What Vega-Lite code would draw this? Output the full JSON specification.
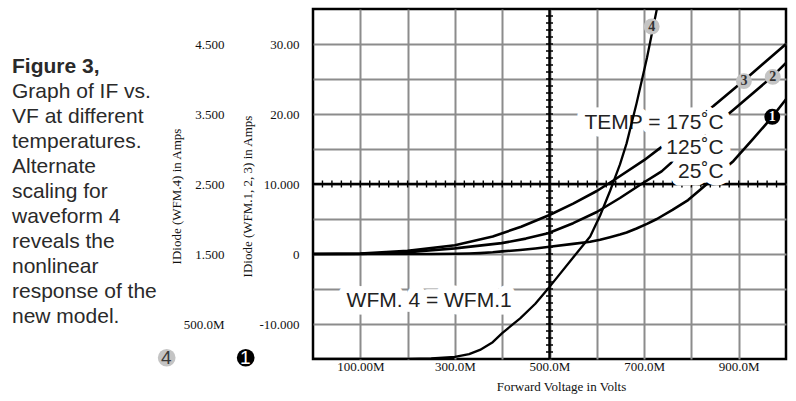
{
  "$schema": "https://vega.github.io/schema/vega-lite/v6.json",
  "width": 473,
  "height": 350,
  "autosize": {"type": "none"},
  "padding": {"left": 313, "top": 9, "right": 10, "bottom": 42},
  "background": "white",
  "title": {
    "text": "Figure 3,",
    "subtitle": ["Graph of IF vs.", "VF at different", "temperatures.", "Alternate", "scaling for", "waveform 4", "reveals the", "nonlinear", "response of the", "new model."],
    "orient": "top",
    "anchor": "start",
    "frame": "group",
    "align": "left",
    "baseline": "top",
    "dx": -301,
    "offset": -321.5,
    "font": "Liberation Sans",
    "fontSize": 21,
    "fontWeight": "bold",
    "color": "#2a2a2a",
    "subtitleFont": "Liberation Sans",
    "subtitleFontSize": 21,
    "subtitleFontWeight": "normal",
    "subtitleColor": "#2a2a2a",
    "subtitleLineHeight": 25,
    "subtitlePadding": 4.2
  },
  "datasets": {
    "curves": [
      {"wfm": "1", "v": 0.0, "i": 0},
      {"wfm": "1", "v": 0.1, "i": 0},
      {"wfm": "1", "v": 0.2, "i": 0.003},
      {"wfm": "1", "v": 0.25, "i": 0.01},
      {"wfm": "1", "v": 0.3, "i": 0.03},
      {"wfm": "1", "v": 0.33, "i": 0.07},
      {"wfm": "1", "v": 0.353, "i": 0.13},
      {"wfm": "1", "v": 0.38, "i": 0.24},
      {"wfm": "1", "v": 0.4, "i": 0.37},
      {"wfm": "1", "v": 0.438, "i": 0.58},
      {"wfm": "1", "v": 0.47, "i": 0.79},
      {"wfm": "1", "v": 0.5, "i": 1.03},
      {"wfm": "1", "v": 0.55, "i": 1.45},
      {"wfm": "1", "v": 0.586, "i": 1.75},
      {"wfm": "1", "v": 0.607, "i": 2.05},
      {"wfm": "1", "v": 0.628, "i": 2.4},
      {"wfm": "1", "v": 0.649, "i": 2.78},
      {"wfm": "1", "v": 0.663, "i": 3.08},
      {"wfm": "1", "v": 0.684, "i": 3.65},
      {"wfm": "1", "v": 0.706, "i": 4.3},
      {"wfm": "1", "v": 0.727, "i": 5.0},
      {"wfm": "1", "v": 0.76, "i": 6.3},
      {"wfm": "1", "v": 0.793, "i": 7.71},
      {"wfm": "1", "v": 0.818, "i": 9.14},
      {"wfm": "1", "v": 0.85, "i": 11.0},
      {"wfm": "1", "v": 0.889, "i": 13.3},
      {"wfm": "1", "v": 0.93, "i": 16.4},
      {"wfm": "1", "v": 0.971, "i": 19.6},
      {"wfm": "1", "v": 1.0, "i": 22.1},
      {"wfm": "2", "v": 0.0, "i": 0},
      {"wfm": "2", "v": 0.1, "i": 0.02},
      {"wfm": "2", "v": 0.2, "i": 0.22},
      {"wfm": "2", "v": 0.226, "i": 0.4},
      {"wfm": "2", "v": 0.3, "i": 0.8},
      {"wfm": "2", "v": 0.399, "i": 1.55},
      {"wfm": "2", "v": 0.45, "i": 2.2},
      {"wfm": "2", "v": 0.497, "i": 2.96},
      {"wfm": "2", "v": 0.55, "i": 4.4},
      {"wfm": "2", "v": 0.6, "i": 6.0},
      {"wfm": "2", "v": 0.649, "i": 8.0},
      {"wfm": "2", "v": 0.691, "i": 9.86},
      {"wfm": "2", "v": 0.737, "i": 11.8},
      {"wfm": "2", "v": 0.8, "i": 15.6},
      {"wfm": "2", "v": 0.889, "i": 20.6},
      {"wfm": "2", "v": 0.972, "i": 25.4},
      {"wfm": "2", "v": 1.0, "i": 27.3},
      {"wfm": "3", "v": 0.0, "i": 0},
      {"wfm": "3", "v": 0.1, "i": 0.06},
      {"wfm": "3", "v": 0.2, "i": 0.45},
      {"wfm": "3", "v": 0.3, "i": 1.25},
      {"wfm": "3", "v": 0.38, "i": 2.5},
      {"wfm": "3", "v": 0.44, "i": 3.9},
      {"wfm": "3", "v": 0.5, "i": 5.57},
      {"wfm": "3", "v": 0.55, "i": 7.2},
      {"wfm": "3", "v": 0.6, "i": 9.0},
      {"wfm": "3", "v": 0.635, "i": 10.5},
      {"wfm": "3", "v": 0.7, "i": 13.4},
      {"wfm": "3", "v": 0.737, "i": 15.3},
      {"wfm": "3", "v": 0.8, "i": 18.8},
      {"wfm": "3", "v": 0.846, "i": 21.1},
      {"wfm": "3", "v": 0.911, "i": 24.8},
      {"wfm": "3", "v": 1.0, "i": 30.0}
    ],
    "markers": [
      {"wfm": "3", "v": 0.911, "i": 24.7},
      {"wfm": "2", "v": 0.972, "i": 25.3},
      {"wfm": "1", "v": 0.971, "i": 19.6}
    ],
    "marker4": [
      {"wfm": "4", "v": 0.716, "i": 4.75}
    ],
    "notes": [
      {"text": "TEMP = 175˚C", "v": 0.868, "i": 17.86},
      {"text": "125˚C", "v": 0.868, "i": 14.29},
      {"text": "25˚C", "v": 0.868, "i": 10.81},
      {"text": "WFM. 4 = WFM.1", "v": 0.42, "i": -7.53}
    ],
    "axisKeys": [
      {"axis": "4"},
      {"axis": "1"}
    ],
    "crossV": [
      {"v": 0.5}
    ],
    "crossH": [
      {"i": 10}
    ]
  },
  "layer": [
    {
      "data": {"name": "crossV"},
      "mark": {"type": "rule", "color": "#000", "strokeWidth": 2.5},
      "encoding": {
        "x": {"field": "v", "type": "quantitative", "scale": {"domain": [0, 1], "nice": false, "zero": false}}
      }
    },
    {
      "data": {"name": "crossV"},
      "mark": {"type": "rule", "color": "#000", "strokeWidth": 7, "strokeDash": [1.4, 5.6], "strokeDashOffset": 0.7},
      "encoding": {
        "x": {"field": "v", "type": "quantitative", "scale": {"domain": [0, 1], "nice": false, "zero": false}}
      }
    },
    {
      "data": {"name": "crossH"},
      "mark": {"type": "rule", "color": "#000", "strokeWidth": 2.5},
      "encoding": {
        "y": {"field": "i", "type": "quantitative", "scale": {"domain": [-15, 35], "nice": false, "zero": false}, "axis": null}
      }
    },
    {
      "data": {"name": "crossH"},
      "mark": {"type": "rule", "color": "#000", "strokeWidth": 7, "strokeDash": [1.4, 8.06], "strokeDashOffset": 0.7},
      "encoding": {
        "y": {"field": "i", "type": "quantitative", "scale": {"domain": [-15, 35], "nice": false, "zero": false}, "axis": null}
      }
    },
    {
      "encoding": {
        "x": {
          "field": "v",
          "type": "quantitative",
          "scale": {"domain": [0, 1], "nice": false, "zero": false},
          "axis": {
            "values": [0.1, 0.2, 0.3, 0.4, 0.5, 0.6, 0.7, 0.8, 0.9],
            "labelExpr": "round(datum.value*10)==1 ? '100.00M' : round(datum.value*10)==3 ? '300.0M' : round(datum.value*10)==5 ? '500.0M' : round(datum.value*10)==7 ? '700.0M' : round(datum.value*10)==9 ? '900.0M' : ''",
            "grid": true,
            "labelBaseline": "alphabetic",
            "labelPadding": 11.5,
            "title": "Forward Voltage in Volts",
            "titleX": 248,
            "titleY": 31.5,
            "titleAlign": "center",
            "titleBaseline": "alphabetic"
          }
        },
        "y": {
          "field": "i",
          "type": "quantitative",
          "scale": {"domain": [-15, 35], "nice": false, "zero": false},
          "axis": {
            "orient": "left",
            "values": [-10, -5, 0, 5, 10, 15, 20, 25, 30],
            "labelExpr": "datum.value==30 ? '30.00' : datum.value==20 ? '20.00' : datum.value==10 ? '10.000' : datum.value==0 ? '0' : datum.value==-10 ? '-10.000' : ''",
            "grid": true,
            "labelPadding": 14,
            "title": "IDiode (WFM.1, 2, 3) in Amps",
            "titleX": -65.5,
            "titleY": 187,
            "titleAlign": "center",
            "titleBaseline": "middle"
          }
        }
      },
      "layer": [
        {
          "data": {"name": "curves"},
          "mark": {"type": "line", "color": "#000", "strokeWidth": 2.6, "strokeJoin": "round"},
          "encoding": {"detail": {"field": "wfm", "type": "nominal"}}
        },
        {
          "data": {"name": "notes"},
          "mark": {"type": "text", "align": "right", "baseline": "alphabetic", "font": "Liberation Sans", "fontSize": 21, "fill": "white", "stroke": "white", "strokeWidth": 15, "strokeJoin": "round"},
          "encoding": {"text": {"field": "text"}}
        },
        {
          "data": {"name": "notes"},
          "mark": {"type": "text", "align": "right", "baseline": "alphabetic", "font": "Liberation Sans", "fontSize": 21, "color": "#222222"},
          "encoding": {"text": {"field": "text"}}
        },
        {
          "data": {"name": "markers"},
          "mark": {"type": "point", "shape": "circle", "filled": true, "size": 254, "opacity": 1, "strokeWidth": 0},
          "encoding": {
            "fill": {"condition": {"test": "datum.wfm == '1'", "value": "#000000"}, "value": "#c4c4c4"}
          }
        },
        {
          "data": {"name": "markers"},
          "mark": {"type": "text", "align": "center", "baseline": "middle", "font": "Liberation Serif", "fontSize": 14, "fontWeight": "bold"},
          "encoding": {
            "text": {"field": "wfm"},
            "color": {"condition": {"test": "datum.wfm == '1'", "value": "#ffffff"}, "value": "#333333"}
          }
        },
        {
          "data": {"name": "axisKeys"},
          "mark": {"type": "point", "shape": "circle", "filled": true, "opacity": 1, "strokeWidth": 0},
          "encoding": {
            "fill": {
              "field": "axis",
              "type": "nominal",
              "scale": {"domain": ["4", "1"], "range": ["#c4c4c4", "#000000"]},
              "legend": {
                "orient": "none",
                "legendX": -155.8,
                "legendY": 339,
                "direction": "horizontal",
                "title": null,
                "padding": 0,
                "symbolType": "circle",
                "symbolSize": 314,
                "symbolStrokeWidth": 0,
                "symbolOpacity": 1,
                "labelAlign": "center",
                "labelBaseline": "middle",
                "labelOffset": -10,
                "labelFont": "Liberation Sans",
                "labelFontSize": 19,
                "labelColor": {"expr": "datum.label == '1' ? '#ffffff' : '#3a3a3a'"},
                "columnPadding": 60
              }
            }
          }
        }
      ]
    },
    {
      "encoding": {
        "x": {"field": "v", "type": "quantitative", "scale": {"domain": [0, 1], "nice": false, "zero": false}},
        "y": {
          "field": "i",
          "type": "quantitative",
          "scale": {"domain": [0, 5], "nice": false, "zero": false},
          "axis": {
            "orient": "left",
            "values": [0.5, 1.5, 2.5, 3.5, 4.5],
            "labelExpr": "round(datum.value*10)==45 ? '4.500' : round(datum.value*10)==35 ? '3.500' : round(datum.value*10)==25 ? '2.500' : round(datum.value*10)==15 ? '1.500' : round(datum.value*10)==5 ? '500.0M' : ''",
            "grid": false,
            "labelPadding": 89,
            "title": "IDiode (WFM.4) in Amps",
            "titleX": -137,
            "titleY": 187,
            "titleAlign": "center",
            "titleBaseline": "middle"
          }
        }
      },
      "layer": [
        {
          "data": {"name": "curves"},
          "transform": [{"filter": "datum.wfm == '1'"}],
          "mark": {"type": "line", "color": "#000", "strokeWidth": 2.3, "clip": true, "strokeJoin": "round"}
        },
        {
          "data": {"name": "marker4"},
          "mark": {"type": "point", "shape": "circle", "filled": true, "size": 254, "opacity": 1, "strokeWidth": 0, "color": "#c4c4c4"}
        },
        {
          "data": {"name": "marker4"},
          "mark": {"type": "text", "align": "center", "baseline": "middle", "font": "Liberation Serif", "fontSize": 14, "fontWeight": "bold", "color": "#333333"},
          "encoding": {"text": {"field": "wfm"}}
        }
      ]
    }
  ],
  "resolve": {"scale": {"y": "independent"}},
  "config": {
    "view": {"stroke": "#000000", "strokeWidth": 2.5},
    "axis": {
      "domain": false,
      "ticks": false,
      "tickSize": 0,
      "grid": true,
      "gridColor": "#8c8c8c",
      "gridWidth": 2,
      "gridOpacity": 1,
      "labelFont": "Liberation Serif",
      "labelFontSize": 13,
      "labelColor": "#111111",
      "labelOverlap": false,
      "titleFont": "Liberation Serif",
      "titleFontSize": 13,
      "titleFontWeight": "normal",
      "titleColor": "#111111"
    }
  }
}
